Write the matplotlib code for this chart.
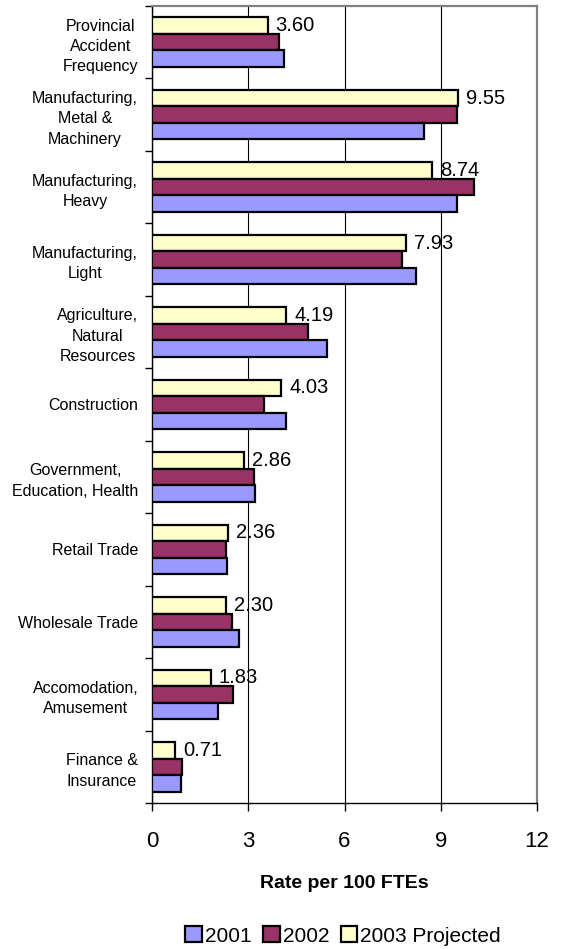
import numpy as np
import matplotlib.pyplot as plt
from matplotlib.patches import Patch

plt.rcParams['font.family'] = ['Liberation Sans', 'DejaVu Sans']

# categories from top to bottom
categories = [
    'Provincial\nAccident\nFrequency',
    'Manufacturing,\nMetal &\nMachinery',
    'Manufacturing,\nHeavy',
    'Manufacturing,\nLight',
    'Agriculture,\nNatural\nResources',
    'Construction',
    'Government,\nEducation, Health',
    'Retail Trade',
    'Wholesale Trade',
    'Accomodation,\nAmusement',
    'Finance &\nInsurance',
]
rate_2001 = [4.10, 8.48, 9.52, 8.22, 5.45, 4.18, 3.22, 2.35, 2.71, 2.07, 0.91]
rate_2002 = [3.97, 9.50, 10.05, 7.78, 4.87, 3.48, 3.18, 2.32, 2.50, 2.54, 0.94]
rate_2003 = [3.60, 9.55, 8.74, 7.93, 4.19, 4.03, 2.86, 2.36, 2.30, 1.83, 0.71]

c2001 = '#9999FF'
c2002 = '#993366'
c2003 = '#FFFFCC'

fig = plt.figure(figsize=(5.61, 9.49), dpi=100)
ax = fig.add_axes([152/561, 1 - 803/949, (537 - 152)/561, (803 - 6)/949])

n = len(categories)
y = np.arange(n) + 0.5
h = 0.228

kw = dict(height=h, edgecolor='black', linewidth=1.6, zorder=3)
ax.barh(y - h, rate_2003, color=c2003, **kw)
ax.barh(y, rate_2002, color=c2002, **kw)
ax.barh(y + h, rate_2001, color=c2001, **kw)

for yi, v in zip(y, rate_2003):
    ax.text(v + 0.25, yi - h, f'{v:.2f}', va='center', ha='left', fontsize=14.5, zorder=4)

ax.set_xlim(0, 12)
ax.set_ylim(n, 0)
ax.set_xticks([0, 3, 6, 9, 12])
ax.tick_params(axis='x', direction='out', length=6, width=1, labelsize=16, pad=14)
ax.xaxis.grid(True, color='black', linewidth=0.8, zorder=0)

ax.set_yticks(y)
ax.set_yticklabels(categories, fontsize=11.5, multialignment='center', linespacing=1.45)
ax.set_yticks(np.arange(n + 1), minor=True)
ax.tick_params(axis='y', which='major', length=0, pad=10)
ax.tick_params(axis='y', which='minor', direction='out', length=5, width=1)

ax.set_xlabel('Rate per 100 FTEs', fontsize=14, fontweight='bold', labelpad=17)

for side in ['top', 'right']:
    ax.spines[side].set_color('#808080')
    ax.spines[side].set_linewidth(1.6)
for side in ['left', 'bottom']:
    ax.spines[side].set_color('black')
    ax.spines[side].set_linewidth(1)

handles = [
    Patch(facecolor=c2001, edgecolor='black', linewidth=1.6, label='2001'),
    Patch(facecolor=c2002, edgecolor='black', linewidth=1.6, label='2002'),
    Patch(facecolor=c2003, edgecolor='black', linewidth=1.6, label='2003 Projected'),
]
fig.legend(handles=handles, loc='center', bbox_to_anchor=(343/561, 1 - 936/949), ncol=3,
           frameon=False, fontsize=15, handlelength=0.8, handleheight=0.8,
           handletextpad=0.15, columnspacing=0.55, borderaxespad=0)

fig.savefig('out.png', dpi=100)
